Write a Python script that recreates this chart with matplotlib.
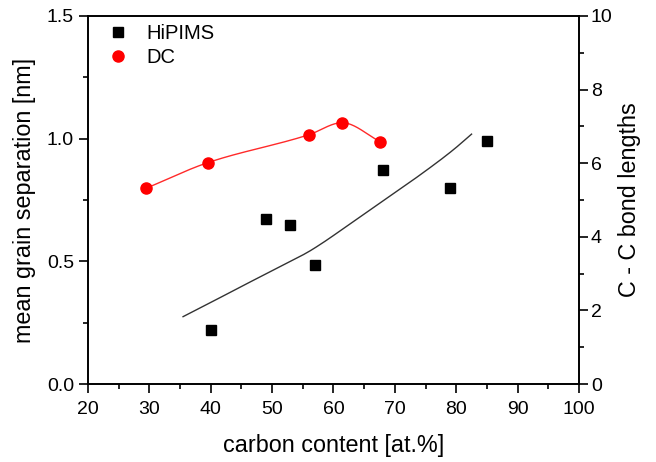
import numpy as np
import matplotlib
matplotlib.use("Agg")
import matplotlib.pyplot as plt
from matplotlib.ticker import MultipleLocator

plt.rcParams['font.family'] = ['Liberation Sans', 'DejaVu Sans']

# HiPIMS grain separation
hipims_c = [40, 49, 53, 57, 68, 79, 85]
hipims_sep = [0.22, 0.673, 0.648, 0.485, 0.872, 0.798, 0.989]

# DC grain separation
dc_c = [29.5, 39.5, 56.0, 61.4, 67.6]
dc_sep = [0.798, 0.902, 1.016, 1.065, 0.988]

# C - C bond length curve (right axis)
bond_c = [35.5, 39.6, 45.0, 50.5, 55.9, 58.1, 63.2, 68.7, 74.1, 79.5, 82.5]
bond_len = [1.83, 2.18, 2.65, 3.12, 3.59, 3.82, 4.41, 5.05, 5.68, 6.36, 6.79]


def pchip(x, y, n=300):
    """Monotone piecewise cubic Hermite interpolation (secant end slopes)."""
    x = np.asarray(x, float)
    y = np.asarray(y, float)
    h = np.diff(x)
    delta = np.diff(y) / h
    m = len(x)
    d = np.zeros(m)
    for k in range(1, m - 1):
        if delta[k - 1] * delta[k] > 0:
            w1 = 2 * h[k] + h[k - 1]
            w2 = h[k] + 2 * h[k - 1]
            d[k] = (w1 + w2) / (w1 / delta[k - 1] + w2 / delta[k])
    d[0] = delta[0]
    d[-1] = delta[-1]
    xs = np.linspace(x[0], x[-1], n)
    ys = np.empty_like(xs)
    for j, xv in enumerate(xs):
        i = min(np.searchsorted(x, xv, side='right') - 1, m - 2)
        t = (xv - x[i]) / h[i]
        h00 = 2 * t**3 - 3 * t**2 + 1
        h10 = t**3 - 2 * t**2 + t
        h01 = -2 * t**3 + 3 * t**2
        h11 = t**3 - t**2
        ys[j] = h00 * y[i] + h10 * h[i] * d[i] + h01 * y[i + 1] + h11 * h[i] * d[i + 1]
    return xs, ys


fig = plt.figure(figsize=(6.56, 4.62), dpi=100)
ax = fig.add_axes([0.134, 0.1688, 0.7486, 0.7966])
ax2 = ax.twinx()

tfs = 14
lfs = 16.8

ax.plot(hipims_c, hipims_sep, 's', color='black', markersize=6.8,
        linestyle='none', label='HiPIMS', zorder=3)
sx, sy = pchip(dc_c, dc_sep)
ax.plot(sx, sy, '-', color='#ff2a2a', linewidth=1.0, zorder=2)
ax.plot(dc_c, dc_sep, 'o', color='#ff0000', markersize=8,
        linestyle='none', label='DC', zorder=3)

bx, by = pchip(bond_c, bond_len)
ax2.plot(bx, by, '-', color='#333333', linewidth=1.0)

ax.set_xlim(20, 100)
ax.set_ylim(0, 1.5)
ax2.set_ylim(0, 10)

ax.xaxis.set_major_locator(MultipleLocator(10))
ax.xaxis.set_minor_locator(MultipleLocator(5))
ax.yaxis.set_major_locator(MultipleLocator(0.5))
ax.yaxis.set_minor_locator(MultipleLocator(0.25))
ax2.yaxis.set_major_locator(MultipleLocator(2))
ax2.yaxis.set_minor_locator(MultipleLocator(1))

for a in (ax, ax2):
    for s in a.spines.values():
        s.set_linewidth(1.2)
    a.tick_params(which='major', direction='out', length=6.5, width=1.2,
                  labelsize=tfs)
    a.tick_params(which='minor', direction='out', length=3.8, width=1.2)
ax.tick_params(axis='y', which='both', right=False, pad=3.5)
ax.tick_params(axis='x', which='both', top=False, pad=5.5)
ax2.tick_params(axis='y', which='both', pad=2)

ax.set_xlabel('carbon content [at.%]', fontsize=lfs, labelpad=12)
ax.set_ylabel('mean grain separation [nm]', fontsize=lfs, labelpad=8)
ax2.set_ylabel('C - C bond lengths', fontsize=lfs, labelpad=4)

ax.legend(loc='upper left', frameon=False, fontsize=14.5, handletextpad=0.8,
          borderaxespad=0.0, labelspacing=0.25, handlelength=1.2,
          bbox_to_anchor=(0.02, 1.0))

fig.savefig('out.png', dpi=100)
